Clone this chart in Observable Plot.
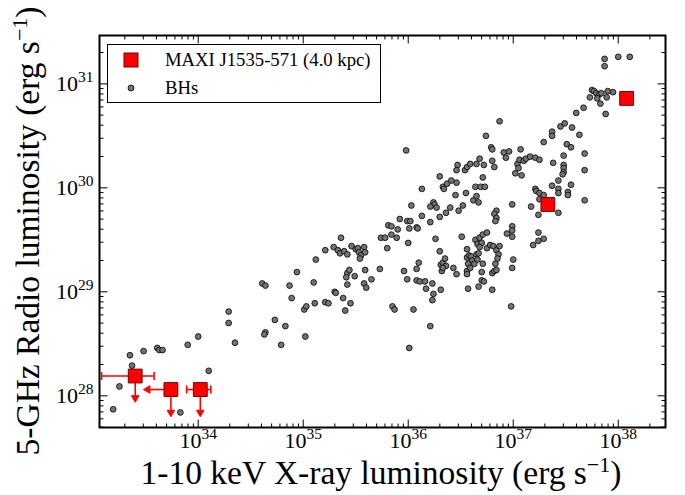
<!DOCTYPE html>
<html><head><meta charset="utf-8">
<script src="https://cdn.jsdelivr.net/npm/d3@7"></script>
<script src="https://cdn.jsdelivr.net/npm/@observablehq/plot@0.6"></script>
<style>body{margin:0;background:#fff}#chart{width:685px;height:495px}</style>
</head><body><div id="chart"></div>
<script>
// ---- data (log10 luminosities, erg/s) ----
const bhLogLx = [
33.19,33.25,33.35,33.37,33.48,33.61,33.63,33.66,33.83,33.90,
34.00,34.10,34.29,34.29,34.35,34.61,34.64,34.64,34.63,34.79,
34.73,34.83,34.87,34.89,34.94,35.02,35.01,35.03,35.10,35.11,
35.12,35.21,35.24,35.21,35.29,35.30,35.31,35.33,35.35,35.36,
35.38,35.39,35.42,35.40,35.42,35.42,35.41,35.44,35.45,35.46,
35.49,35.50,35.52,35.53,35.55,35.54,35.58,35.59,35.59,35.58,
35.60,35.65,35.73,35.74,35.78,35.80,35.81,35.84,35.90,35.84,
35.89,35.85,35.87,35.92,35.98,35.99,36.02,36.01,36.03,36.08,
36.09,36.13,36.13,36.00,35.96,35.99,36.01,36.05,36.08,36.10,
36.08,36.11,36.16,36.17,36.21,36.21,36.23,36.24,36.23,36.24,
36.25,36.21,36.27,36.26,36.30,36.30,36.30,36.31,36.33,36.35,
36.36,36.32,36.33,36.31,36.33,36.34,36.36,36.37,36.41,36.40,
36.43,36.46,36.45,36.46,36.47,36.46,36.48,36.51,36.52,36.54,
36.56,36.59,36.55,36.56,36.56,36.58,36.60,36.61,36.57,36.56,
36.56,36.59,36.63,36.57,36.62,36.65,36.67,36.64,36.69,36.73,
36.65,36.68,36.72,36.71,36.74,36.79,36.80,36.82,36.64,36.68,
36.71,36.75,36.66,36.70,36.68,36.75,36.78,36.81,36.65,36.67,
36.66,36.71,36.70,36.70,36.72,36.67,36.80,36.80,36.82,36.84,
36.84,36.86,36.85,36.83,36.87,36.84,36.82,36.84,36.83,36.80,
36.87,36.91,36.96,36.93,37.07,37.04,37.05,37.06,37.10,37.12,
37.16,37.21,37.25,37.02,37.08,37.29,37.37,37.37,37.38,37.45,
37.49,37.56,37.60,37.63,37.51,37.55,37.48,37.68,37.48,37.48,
37.48,37.47,37.68,37.43,37.55,37.37,37.21,37.22,37.25,37.29,
37.43,37.43,37.52,37.52,37.25,37.68,37.17,36.99,37.24,37.43,
36.99,36.99,36.94,36.99,37.24,37.19,37.24,37.29,37.00,36.99,
36.98,37.67,37.88,37.73,37.75,37.77,37.79,37.82,37.84,37.90,
37.95,37.80,37.83,37.89,37.87,37.87,38.00,38.11];
const bhLogLr = [
27.87,28.09,28.39,28.29,28.43,28.46,28.44,28.44,27.84,28.49,
28.57,28.24,28.81,28.70,28.51,29.08,29.06,28.61,28.59,28.49,
28.73,28.67,29.06,28.94,29.19,28.57,28.83,28.86,29.09,28.89,
29.31,28.90,28.89,29.40,29.43,29.00,28.99,29.40,29.37,29.52,
28.94,29.39,29.36,28.82,29.07,29.18,29.14,29.21,28.89,29.44,
29.15,29.41,29.42,29.38,29.35,29.32,29.43,29.38,29.21,29.08,
29.04,29.12,29.22,29.52,29.52,29.42,29.64,29.63,29.60,29.55,
29.52,28.86,28.83,29.70,30.36,29.68,29.68,29.61,29.83,29.62,
29.61,29.99,29.73,29.47,29.20,29.12,28.46,28.83,29.22,29.28,
29.11,29.10,29.10,29.03,28.67,29.67,29.08,28.98,28.92,29.86,
29.84,29.82,29.81,29.51,30.11,29.72,29.39,29.26,29.28,29.32,
29.25,29.20,29.23,29.02,30.01,29.99,29.76,30.04,30.07,29.81,
29.23,29.17,29.93,30.05,30.22,30.17,29.78,29.53,29.83,30.17,
30.20,30.23,29.95,29.41,29.33,29.35,29.34,29.30,29.27,29.20,
29.17,29.23,29.27,29.03,29.88,29.92,29.86,30.01,30.01,30.01,
30.23,30.28,30.22,30.10,30.50,30.39,30.37,30.20,29.50,29.52,
29.55,29.57,29.46,29.47,29.43,29.42,29.45,29.44,29.36,29.37,
29.31,29.27,29.19,29.11,29.10,29.05,29.02,29.18,29.20,29.21,
29.40,29.36,29.32,29.27,29.44,29.78,29.75,29.71,29.68,30.26,
30.64,30.34,30.35,30.29,30.37,30.23,30.19,30.27,30.26,30.28,
30.30,30.29,30.27,30.14,30.12,30.44,30.54,30.50,30.24,30.59,
30.62,30.58,30.72,30.51,30.42,30.39,30.31,30.33,30.22,30.19,
30.15,30.13,30.17,30.07,30.03,30.02,29.99,29.97,29.95,29.93,
29.99,29.95,29.96,29.93,29.89,29.88,29.82,29.84,29.74,29.76,
29.63,29.59,29.56,29.53,29.57,29.45,29.49,29.51,29.31,29.23,
28.86,30.77,30.71,30.87,30.94,30.93,30.91,30.90,30.91,30.93,
30.92,30.86,30.81,30.87,31.24,31.17,31.26,31.26];

const maxiLogLx      = [33.40, 33.74, 34.02, 37.33, 38.08];
const maxiLogLr      = [28.19, 28.06, 28.06, 29.84, 30.86];
const maxiLogLxLo    = [33.08, null, 33.89, null, null];   // x error bar, low end
const maxiLogLxHi    = [33.58, null, 34.12, null, null];   // x error bar, high end
const maxiLogLxLimTo = [null, 33.52, null, null, null];    // x upper-limit arrow end
const maxiLogLrLimTo = [27.98, 27.84, 27.84, null, null];  // radio upper-limit arrow end

const xDomainLog = [33.06, 38.45];
const yDomainLog = [27.695, 31.465];
const xMajorExp = [34, 35, 36, 37, 38];
const yMajorExp = [28, 29, 30, 31];

const legendLabels = ["MAXI J1535-571 (4.0 kpc)", "BHs"];
const xTitle = ["1-10 keV X-ray luminosity (erg s", "\u22121", ")"];
const yTitle = ["5-GHz Radio luminosity (erg s", "\u22121", ")"];

// ---- derived ----
const pw = v => Math.pow(10, v);
const bh = bhLogLx.map((lx, i) => ({x: pw(lx), y: pw(bhLogLr[i])}));
const maxi = maxiLogLx.map((lx, i) => ({x: pw(lx), y: pw(maxiLogLr[i])}));
const xerr = maxiLogLx.map((lx, i) => maxiLogLxLo[i] == null ? null :
  ({y: pw(maxiLogLr[i]), x1: pw(maxiLogLxLo[i]), x2: pw(maxiLogLxHi[i])})).filter(d => d);
const xcaps = xerr.flatMap(d => [{x: d.x1, y: d.y}, {x: d.x2, y: d.y}]);
const xlim = maxiLogLx.map((lx, i) => maxiLogLxLimTo[i] == null ? null :
  ({y: pw(maxiLogLr[i]), x1: pw(lx), x2: pw(maxiLogLxLimTo[i])})).filter(d => d);
const ylim = maxiLogLx.map((lx, i) => maxiLogLrLimTo[i] == null ? null :
  ({x: pw(lx), y1: pw(maxiLogLr[i]), y2: pw(maxiLogLrLimTo[i])})).filter(d => d);

const xDomain = xDomainLog.map(pw), yDomain = yDomainLog.map(pw);
const xMajor = xMajorExp.map(pw), yMajor = yMajorExp.map(pw);
function minors(dom) {
  const out = [];
  for (let k = Math.floor(Math.log10(dom[0])); k <= Math.ceil(Math.log10(dom[1])); k++)
    for (let m = 2; m <= 9; m++) { const v = m * Math.pow(10, k); if (v >= dom[0] && v <= dom[1]) out.push(v); }
  return out;
}
const xMinor = minors(xDomain), yMinor = minors(yDomain);

const tickSym = {draw(ctx, size) { const l = Math.sqrt(size / Math.PI); ctx.moveTo(0, 0); ctx.lineTo(0, -l); }};
const capSym = {draw(ctx, size) { const l = Math.sqrt(size / Math.PI); ctx.moveTo(0, -l); ctx.lineTo(0, l); }};

function ticks(values, anchor, r) {
  const rot = {bottom: 0, top: 180, left: 90, right: -90}[anchor];
  const ch = (anchor === "bottom" || anchor === "top") ? {x: d => d} : {y: d => d};
  return Plot.dot(values, {...ch, frameAnchor: anchor, symbol: tickSym, r, rotate: rot,
    stroke: "black", fill: "none", strokeWidth: 1});
}
const fmt = d => "10|" + Math.round(Math.log10(d));
const RED = "#ff0000", REDEDGE = "#7a0000", GRAY = "#737373";

const plot = Plot.plot({
  width: 685, height: 495,
  marginLeft: 99, marginRight: 20, marginTop: 35, marginBottom: 68,
  style: {fontFamily: "'Liberation Serif', serif", fontSize: "22px", color: "black", background: "white"},
  x: {type: "log", domain: xDomain, label: null},
  y: {type: "log", domain: yDomain, label: null},
  marks: [
    Plot.axisX({ticks: xMajor, tickSize: 0, tickPadding: 5, tickFormat: fmt, label: null}),
    Plot.axisY({ticks: yMajor, tickSize: 0, tickPadding: 6, tickFormat: fmt, label: null}),
    Plot.dot(bh, {x: "x", y: "y", r: 2.9, fill: GRAY, stroke: "black", strokeWidth: 0.8}),
    Plot.ruleY(xerr, {y: "y", x1: "x1", x2: "x2", stroke: RED, strokeWidth: 1.6}),
    Plot.dot(xcaps, {x: "x", y: "y", symbol: capSym, r: 4, stroke: RED, fill: "none", strokeWidth: 1.6}),
    Plot.ruleY(xlim, {y: "y", x1: "x1", x2: "x2", stroke: RED, strokeWidth: 1.6}),
    Plot.dot(xlim, {x: "x2", y: "y", symbol: "triangle", r: 2.8, rotate: -90, fill: RED, stroke: RED, strokeWidth: 1}),
    Plot.ruleX(ylim, {x: "x", y1: "y1", y2: "y2", stroke: RED, strokeWidth: 1.6}),
    Plot.dot(ylim, {x: "x", y: "y2", symbol: "triangle", r: 2.8, rotate: 180, fill: RED, stroke: RED, strokeWidth: 1}),
    Plot.dot(maxi, {x: "x", y: "y", symbol: "square", r: 7.8, fill: RED, stroke: REDEDGE, strokeWidth: 1}),
    ticks(xMajor, "bottom", 8), ticks(xMajor, "top", 8),
    ticks(xMinor, "bottom", 4), ticks(xMinor, "top", 4),
    ticks(yMajor, "left", 8), ticks(yMajor, "right", 8),
    ticks(yMinor, "left", 4), ticks(yMinor, "right", 4),
    Plot.frame({stroke: "black", strokeWidth: 2})
  ]
});
document.getElementById("chart").appendChild(plot);

const svg = d3.select(plot);
// superscript tick labels
svg.selectAll("text").each(function() {
  const s = this.textContent;
  if (s.includes("|")) {
    const [b, e] = s.split("|");
    const t = d3.select(this); t.text(null);
    t.append("tspan").text(b);
    t.append("tspan").attr("dy", "-9").attr("font-size", "15.5px").text(e);
  }
});
function title(g, parts) {
  g.attr("font-size", "33.5px").attr("text-anchor", "middle").attr("fill", "black");
  g.append("tspan").text(parts[0]);
  g.append("tspan").attr("dy", -12).attr("font-size", "22px").text(parts[1]);
  g.append("tspan").attr("dy", 12).text(parts[2]);
}
title(svg.append("text").attr("x", 381).attr("y", 484), xTitle);
title(svg.append("text").attr("transform", "translate(39,231) rotate(-90)"), yTitle);

// legend
const lg = svg.append("g").attr("font-size", "18.7px").attr("fill", "black").attr("text-anchor", "start");
lg.append("rect").attr("x", 107.5).attr("y", 44.5).attr("width", 273).attr("height", 58)
  .attr("fill", "white").attr("stroke", "black").attr("stroke-width", 1);
lg.append("rect").attr("x", 124).attr("y", 53).attr("width", 14).attr("height", 14)
  .attr("fill", RED).attr("stroke", REDEDGE).attr("stroke-width", 1);
lg.append("circle").attr("cx", 131).attr("cy", 88).attr("r", 3)
  .attr("fill", GRAY).attr("stroke", "black").attr("stroke-width", 0.8);
lg.append("text").attr("x", 165).attr("y", 66).attr("text-anchor", "start").text(legendLabels[0]);
lg.append("text").attr("x", 165).attr("y", 94).attr("text-anchor", "start").text(legendLabels[1]);
</script>
</body></html>
